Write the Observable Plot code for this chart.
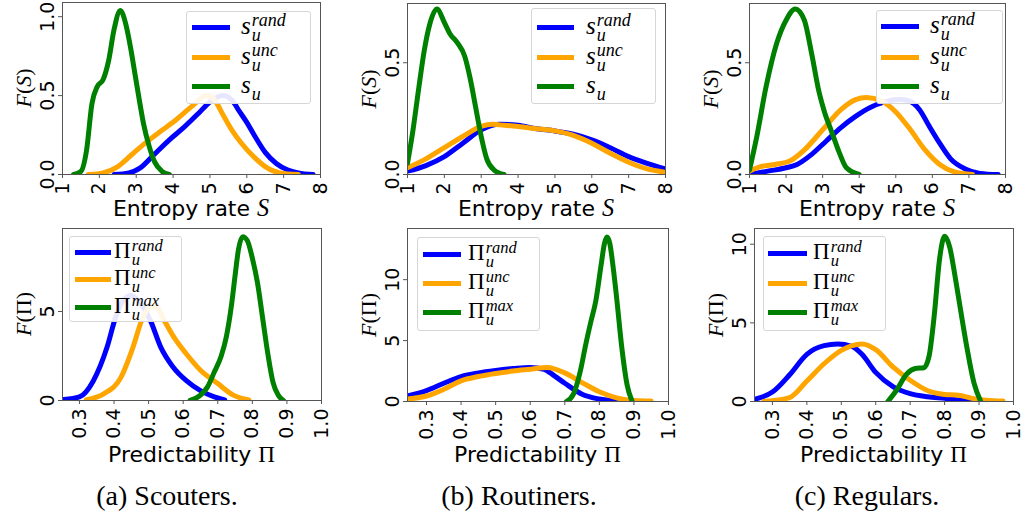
<!DOCTYPE html>
<html><head><meta charset="utf-8">
<script src="https://cdn.jsdelivr.net/npm/d3@7"></script>
<script src="https://cdn.jsdelivr.net/npm/@observablehq/plot@0.6"></script>
<style>
body{margin:0;background:#fff;}
#fig{position:relative;width:1023px;height:521px;overflow:hidden;background:#fff;font-family:"DejaVu Sans";}
#fig svg{position:absolute;left:0;top:0;}
#fig svg text{font-size:19px;font-family:"DejaVu Sans";}
.xl{position:absolute;font-size:22px;white-space:nowrap;transform:translate(-50%,-50%);color:#000;}
.yl{position:absolute;font-family:"Liberation Serif";font-size:22px;white-space:nowrap;transform:translate(-50%,-50%) rotate(-90deg);}
.mi{font-family:"Liberation Serif";font-style:italic;font-size:1.1em;}
.up{font-family:"Liberation Serif";font-size:1.05em;}
.cap{position:absolute;font-family:"Liberation Serif";font-size:28px;transform:translate(-50%,-50%);white-space:nowrap;}
.leg{position:absolute;border:1px solid #d6d6d6;border-radius:3px;background:rgba(255,255,255,0.9);box-sizing:border-box;}
.sw{position:absolute;height:5px;}
.lab{position:absolute;font-family:"Liberation Serif";white-space:nowrap;line-height:1;}
.scr{display:inline-block;vertical-align:-0.4em;font-size:0.72em;line-height:0.85;font-style:italic;margin-left:1px;}
.scr span{display:block;}
</style>
</head><body>
<div id="fig"></div>
<script>
// ---------- data (x, density) ----------
const topXTicks = [1,2,3,4,5,6,7,8];
const botXTicks = [0.3,0.4,0.5,0.6,0.7,0.8,0.9,1.0];
const captions = ["(a) Scouters.","(b) Routiners.","(c) Regulars."];
const seriesColors = ["#0000ff","#ffa500","#008000"];
const topLegendSup = ["rand","unc",""];
const botLegendSup = ["rand","unc","max"];

// Entropy rate, Scouters
const scoutEntRand = [[2.4,0],[2.8,0.01],[3.1,0.04],[3.5,0.13],[3.9,0.22],[4.3,0.3],[4.7,0.39],[5.0,0.46],[5.35,0.5],[5.6,0.47],[5.8,0.4],[6.0,0.33],[6.2,0.25],[6.5,0.14],[6.8,0.07],[7.1,0.03],[7.4,0.01],[7.8,0]];
const scoutEntUnc = [[1.7,0],[2.1,0.01],[2.5,0.05],[2.9,0.13],[3.3,0.21],[3.7,0.28],[4.1,0.35],[4.5,0.43],[4.9,0.5],[5.1,0.48],[5.35,0.38],[5.6,0.28],[5.85,0.2],[6.2,0.11],[6.5,0.05],[6.9,0.01],[7.4,0]];
const scoutEnt = [[1.3,0],[1.5,0.02],[1.65,0.15],[1.8,0.45],[1.95,0.56],[2.1,0.6],[2.25,0.72],[2.4,0.92],[2.57,1.04],[2.72,0.95],[2.85,0.8],[2.95,0.66],[3.1,0.45],[3.2,0.32],[3.35,0.18],[3.5,0.08],[3.7,0.02],[3.9,0]];
// Entropy rate, Routiners
const routEntRand = [[1,0.015],[1.5,0.04],[2,0.08],[2.5,0.14],[3,0.2],[3.5,0.225],[4,0.22],[4.5,0.205],[5,0.195],[5.5,0.18],[6,0.155],[6.5,0.12],[7,0.08],[7.5,0.05],[8,0.025]];
const routEntUnc = [[1,0.03],[1.5,0.07],[2,0.12],[2.5,0.17],[3,0.215],[3.3,0.225],[3.5,0.222],[4,0.215],[4.5,0.205],[5,0.195],[5.5,0.175],[6,0.14],[6.5,0.095],[7,0.055],[7.5,0.025],[8,0.01]];
const routEnt = [[1.0,0.05],[1.15,0.2],[1.3,0.38],[1.45,0.55],[1.6,0.67],[1.8,0.74],[2.0,0.68],[2.15,0.63],[2.35,0.59],[2.55,0.53],[2.7,0.43],[2.85,0.3],[3.0,0.17],[3.15,0.07],[3.35,0.02],[3.62,0]];
// Entropy rate, Regulars
const regEntRand = [[1.0,0],[1.5,0.015],[2.0,0.03],[2.3,0.045],[2.7,0.09],[3.1,0.15],[3.5,0.21],[3.9,0.26],[4.3,0.3],[4.7,0.325],[5.1,0.335],[5.35,0.33],[5.65,0.29],[5.9,0.22],[6.2,0.14],[6.5,0.07],[6.9,0.025],[7.3,0.005],[7.8,0]];
const regEntUnc = [[1.0,0.015],[1.3,0.035],[1.7,0.045],[2.1,0.06],[2.5,0.11],[3.0,0.2],[3.5,0.29],[3.9,0.335],[4.2,0.345],[4.6,0.33],[5.0,0.28],[5.4,0.2],[5.8,0.11],[6.2,0.045],[6.6,0.012],[7.1,0]];
const regEnt = [[1.0,0.02],[1.2,0.17],[1.45,0.39],[1.75,0.59],[2.0,0.69],[2.25,0.74],[2.5,0.69],[2.7,0.54],[2.9,0.37],[3.05,0.28],[3.25,0.19],[3.45,0.1],[3.65,0.03],[4.0,0]];
// Predictability, Scouters
const scoutPredRand = [[0.255,0.05],[0.3,0.2],[0.34,1.1],[0.38,3.0],[0.405,4.7],[0.43,5.7],[0.45,5.9],[0.475,5.5],[0.505,4.5],[0.535,3.0],[0.57,1.9],[0.61,1.1],[0.65,0.55],[0.69,0.2],[0.72,0.03]];
const scoutPredUnc = [[0.32,0.04],[0.37,0.37],[0.42,1.3],[0.455,3.0],[0.48,4.5],[0.5,5.2],[0.52,5.3],[0.545,4.5],[0.575,3.5],[0.61,2.6],[0.65,1.7],[0.7,0.95],[0.745,0.3],[0.79,0.03]];
const scoutPred = [[0.62,0],[0.65,0.3],[0.67,0.75],[0.69,1.6],[0.71,2.5],[0.725,3.6],[0.74,5.4],[0.75,7.0],[0.76,8.5],[0.772,9.2],[0.785,9.0],[0.8,8.0],[0.815,6.6],[0.83,4.6],[0.845,2.6],[0.86,1.0],[0.875,0.3],[0.89,0]];
// Predictability, Routiners
const routPredRand = [[0.245,0.45],[0.3,0.9],[0.35,1.5],[0.4,2.05],[0.45,2.35],[0.5,2.55],[0.55,2.7],[0.6,2.8],[0.64,2.65],[0.67,2.1],[0.7,1.5],[0.75,0.6],[0.8,0.2],[0.85,0.03]];
const routPredUnc = [[0.245,0.2],[0.3,0.45],[0.35,1.0],[0.4,1.7],[0.45,2.05],[0.5,2.3],[0.55,2.5],[0.6,2.65],[0.65,2.8],[0.7,2.35],[0.75,1.55],[0.8,0.8],[0.85,0.3],[0.9,0.08],[0.95,0.04]];
const routPred = [[0.705,0],[0.725,0.6],[0.745,2.5],[0.76,4.6],[0.775,6.5],[0.79,8.3],[0.805,11.2],[0.815,13.0],[0.822,13.5],[0.83,13.0],[0.84,11.0],[0.85,8.5],[0.865,4.4],[0.88,1.4],[0.895,0]];
// Predictability, Regulars
const regPredRand = [[0.25,0.15],[0.3,0.6],[0.35,1.7],[0.4,3.0],[0.45,3.55],[0.49,3.65],[0.53,3.5],[0.56,3.0],[0.6,1.85],[0.65,0.95],[0.7,0.5],[0.75,0.3],[0.8,0.2],[0.85,0.08],[0.9,0]];
const regPredUnc = [[0.275,0],[0.35,0.25],[0.4,1.3],[0.45,2.4],[0.5,3.25],[0.56,3.66],[0.6,3.3],[0.65,2.2],[0.7,1.35],[0.75,0.7],[0.8,0.45],[0.84,0.4],[0.88,0.2],[0.92,0.08],[0.97,0.03]];
const regPred = [[0.635,0],[0.66,0.7],[0.69,1.75],[0.715,2.1],[0.74,2.15],[0.755,2.9],[0.77,5.5],[0.785,9.0],[0.8,10.5],[0.815,9.8],[0.83,8.0],[0.845,6.0],[0.865,3.4],[0.885,1.2],[0.905,0]];

// ---------- layout ----------
const W = 1023, H = 521;
const fmt1 = d3.format(".1f"), fmt0 = d3.format("d");
const panels = [
  {l:62, r:320, t:2, b:174, xd:[1,8], xt:topXTicks, xf:fmt0, yd:[0,1.09], yt:[0,0.5,1.0], yf:fmt1, s:[scoutEntRand,scoutEntUnc,scoutEnt], row:0, col:0},
  {l:407, r:665, t:3, b:174, xd:[1,8], xt:topXTicks, xf:fmt0, yd:[0,0.765], yt:[0,0.5], yf:fmt1, s:[routEntRand,routEntUnc,routEnt], row:0, col:1},
  {l:749, r:1005, t:3, b:174, xd:[1,8], xt:topXTicks, xf:fmt0, yd:[0,0.765], yt:[0,0.5], yf:fmt1, s:[regEntRand,regEntUnc,regEnt], row:0, col:2},
  {l:62, r:321, t:228, b:400, xd:[0.251,1.0], xt:botXTicks, xf:fmt1, yd:[0,9.66], yt:[0,5], yf:fmt0, s:[scoutPredRand,scoutPredUnc,scoutPred], row:1, col:0},
  {l:407, r:668, t:228, b:401, xd:[0.245,1.0], xt:botXTicks, xf:fmt1, yd:[0,14.2], yt:[0,5,10], yf:fmt0, s:[routPredRand,routPredUnc,routPred], row:1, col:1},
  {l:754, r:1013, t:228, b:401, xd:[0.248,1.0], xt:botXTicks, xf:fmt1, yd:[0,11.0], yt:[0,5,10], yf:fmt0, s:[regPredRand,regPredUnc,regPred], row:1, col:2}
];
const legends = [
  {x:186, y:11, w:125, h:93, rows:[16,46,75], sw:[5,43], tx:54, fs:25},
  {x:531, y:8, w:125, h:96, rows:[19,49,78], sw:[5,42], tx:54, fs:25},
  {x:876, y:10, w:127, h:94, rows:[16,47,76], sw:[4,42], tx:53, fs:25},
  {x:69, y:236, w:113, h:86, rows:[16,43,71], sw:[5,41], tx:44, fs:23},
  {x:417, y:237, w:123, h:94, rows:[17,46,75], sw:[5,43], tx:50, fs:23},
  {x:763, y:236, w:123, h:95, rows:[17,47,76], sw:[4,43], tx:49, fs:23}
];

const fig = document.getElementById("fig");
panels.forEach((p, i) => {
  const svg = Plot.plot({
    width: W, height: H,
    marginLeft: p.l, marginRight: W - p.r, marginTop: p.t, marginBottom: H - p.b,
    style: {background: "transparent", fontFamily: "DejaVu Sans", fontSize: "19px", overflow: "visible"},
    x: {domain: p.xd},
    y: {domain: p.yd},
    marks: [
      ...p.s.map((s, k) => Plot.line(s, {x: d => d[0], y: d => d[1], stroke: seriesColors[k], strokeWidth: 5, curve: "monotone-x", clip: true})),
      Plot.frame({stroke: "#555", strokeWidth: 1}),
      Plot.axisX({ticks: p.xt, tickFormat: p.xf, tickRotate: -90, tickSize: 4, tickPadding: 4, stroke: "#555", fill: "#000", label: null}),
      Plot.axisY({ticks: p.yt, tickFormat: p.yf, tickRotate: -90, tickSize: 4, tickPadding: 5, stroke: "#555", fill: "#000", label: null})
    ]
  });
  fig.appendChild(svg);

  // axis labels
  const cx = (p.l + p.r) / 2, cy = (p.t + p.b) / 2;
  const xl = document.createElement("div");
  xl.className = "xl";
  xl.style.left = cx + "px";
  xl.style.top = (p.row === 0 ? 208 : 454) + "px";
  xl.innerHTML = p.row === 0 ? 'Entropy rate <span class="mi">S</span>' : 'Predictability <span class="up">Π</span>';
  fig.appendChild(xl);
  const yl = document.createElement("div");
  yl.className = "yl";
  yl.style.left = (p.l - 38) + "px";
  yl.style.top = cy + "px";
  yl.innerHTML = p.row === 0 ? '<i>F</i>(<i>S</i>)' : '<i>F</i>(Π)';
  fig.appendChild(yl);

  // legend
  const L = legends[i];
  const box = document.createElement("div");
  box.className = "leg";
  Object.assign(box.style, {left: L.x + "px", top: L.y + "px", width: L.w + "px", height: L.h + "px"});
  const base = p.row === 0 ? '<i>s</i>' : 'Π';
  const sups = p.row === 0 ? topLegendSup : botLegendSup;
  L.rows.forEach((ry, k) => {
    const sw = document.createElement("div");
    sw.className = "sw";
    Object.assign(sw.style, {left: L.sw[0] + "px", width: (L.sw[1] - L.sw[0]) + "px", top: (ry - 3) + "px", background: seriesColors[k]});
    box.appendChild(sw);
    const lab = document.createElement("div");
    lab.className = "lab";
    Object.assign(lab.style, {left: L.tx + "px", top: (ry - L.fs * 0.62) + "px", fontSize: L.fs + "px"});
    lab.innerHTML = base + '<span class="scr"><span>' + (sups[k] || "&nbsp;") + '</span><span>u</span></span>';
    box.appendChild(lab);
  });
  fig.appendChild(box);
});

captions.forEach((c, i) => {
  const d = document.createElement("div");
  d.className = "cap";
  d.style.left = [167, 519, 867][i] + "px";
  d.style.top = "496px";
  d.textContent = c;
  fig.appendChild(d);
});
</script>
</body></html>
